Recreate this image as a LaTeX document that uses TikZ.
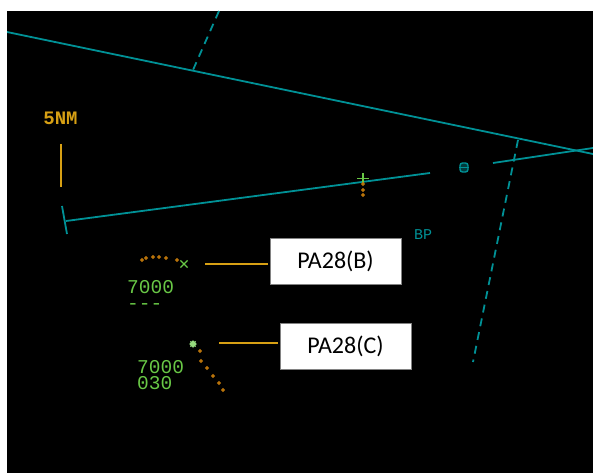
\documentclass[tikz,border=0pt]{standalone}
\usepackage{fontspec}
\setmainfont{Carlito}
\newfontfamily\radarfont{Liberation Mono}
\usepackage{xcolor}
\usetikzlibrary{positioning, calc, shapes.misc, shapes.geometric}
\definecolor{radarteal}{RGB}{0, 145, 150}
\definecolor{radargreen}{RGB}{105, 200, 70}
\definecolor{trackorange}{RGB}{185, 115, 10}
\definecolor{leadergold}{RGB}{215, 160, 20}
\definecolor{boxgray}{RGB}{130, 130, 130}
\tikzset{
    mapline/.style={
        radarteal, line width=1.8pt
    },
    mapdash/.style={
        radarteal, line width=1.8pt, dash pattern=on 8pt off 6pt
    },
    trackdot/.style={
        diamond, fill=trackorange, minimum size=4.6pt, inner sep=0pt
    },
    leader/.style={
        leadergold, line width=1.6pt
    },
    datablock/.style={
        text=radargreen, inner sep=0pt, align=left,
        font=\radarfont\fontsize{19.5}{16}\selectfont
    },
    callout/.style={
        draw=boxgray, fill=white, minimum width=131pt, minimum height=46pt,
        inner sep=0pt, font=\fontsize{24}{28}\selectfont
    }
}

\begin{document}
\begin{tikzpicture}[x=1pt, y=-1pt]

        \useasboundingbox (0,0) rectangle (593,473);
        \fill[white] (0,0) rectangle (593,473);
        \fill[black] (7,11) rectangle (593,473);

        % ======================================
        % KARTE (LINIEN)
        % ======================================
        \begin{scope}
            \clip (7,11) rectangle (593,473);
            \draw[mapline] (7,32) -- (593,154);
            \draw[mapline] (66,221) -- (430,173);
            \draw[mapline] (493,163) -- (593,148);
            \draw[mapline] (62,206) -- (67,234);
            \draw[mapdash] (219,11) -- (193,70);
            \draw[mapdash] (518,140) -- (473,362);
        \end{scope}

        % Maßstab
        \node[text=leadergold, inner sep=0pt, font=\radarfont\bfseries\fontsize{19}{19}\selectfont] (scalelbl) at (60.5,118) {5NM};
        \coordinate (scaletop) at (61,144);
        \coordinate (scalebot) at (61,187);
        \draw[leader] (scaletop) -- (scalebot);

        % Funkfeuer
        \node[draw=radarteal, fill=radarteal!40!black, line width=1.4pt, rounded corners=2.5pt,
              minimum width=8pt, minimum height=9pt, inner sep=0pt] (vor) at (464,167.5) {};
        \draw[radarteal, line width=1.2pt] (vor.west) -- (vor.east);
        \node[text=radarteal, inner sep=0pt, font=\radarfont\fontsize{15}{15}\selectfont] (bp) at (423,235) {BP};

        % Ziel auf der Linie
        \node[cross out, rotate=45, draw=radargreen, line width=1.2pt, minimum size=7pt, inner sep=0pt] (tgt) at (363,178.5) {};
        \foreach \y in {184,190,195}
            \node[trackdot] at (363,\y) {};

        % ======================================
        % PA28 (B)
        % ======================================
        \foreach \x/\y in {142/260, 146/258, 153/257, 159/257, 166/258, 177/260}
            \node[trackdot] at (\x,\y) {};
        \node[cross out, draw=radargreen, line width=1.2pt, minimum size=6pt, inner sep=0pt] (acB) at (184,264) {};
        \node[datablock, anchor=north west] (dataB) at (127,280) {7000\\-\kern0pt-\kern0pt-};

        \node[callout] (boxB) at (335.5,261) {PA28(B)};
        \coordinate (ldrB) at (205,264);
        \draw[leader, shorten >=2pt] (ldrB) -- (ldrB -| boxB.west);

        % ======================================
        % PA28 (C)
        % ======================================
        \foreach \x/\y in {200/351, 201/361, 207/368, 213/376, 219/383, 223/390}
            \node[trackdot] at (\x,\y) {};
        \node[star, star points=8, fill=radargreen!70!white, minimum size=8pt, inner sep=0pt] (acC) at (193,344) {};
        \node[datablock, anchor=north west] (dataC) at (137,360) {7000\\030};

        \node[callout, below=39pt of boxB, xshift=10pt] (boxC) {PA28(C)};
        \coordinate (ldrC) at (219,343);
        \draw[leader, shorten >=2pt] (ldrC) -- (ldrC -| boxC.west);

    \end{tikzpicture}
\end{document}
